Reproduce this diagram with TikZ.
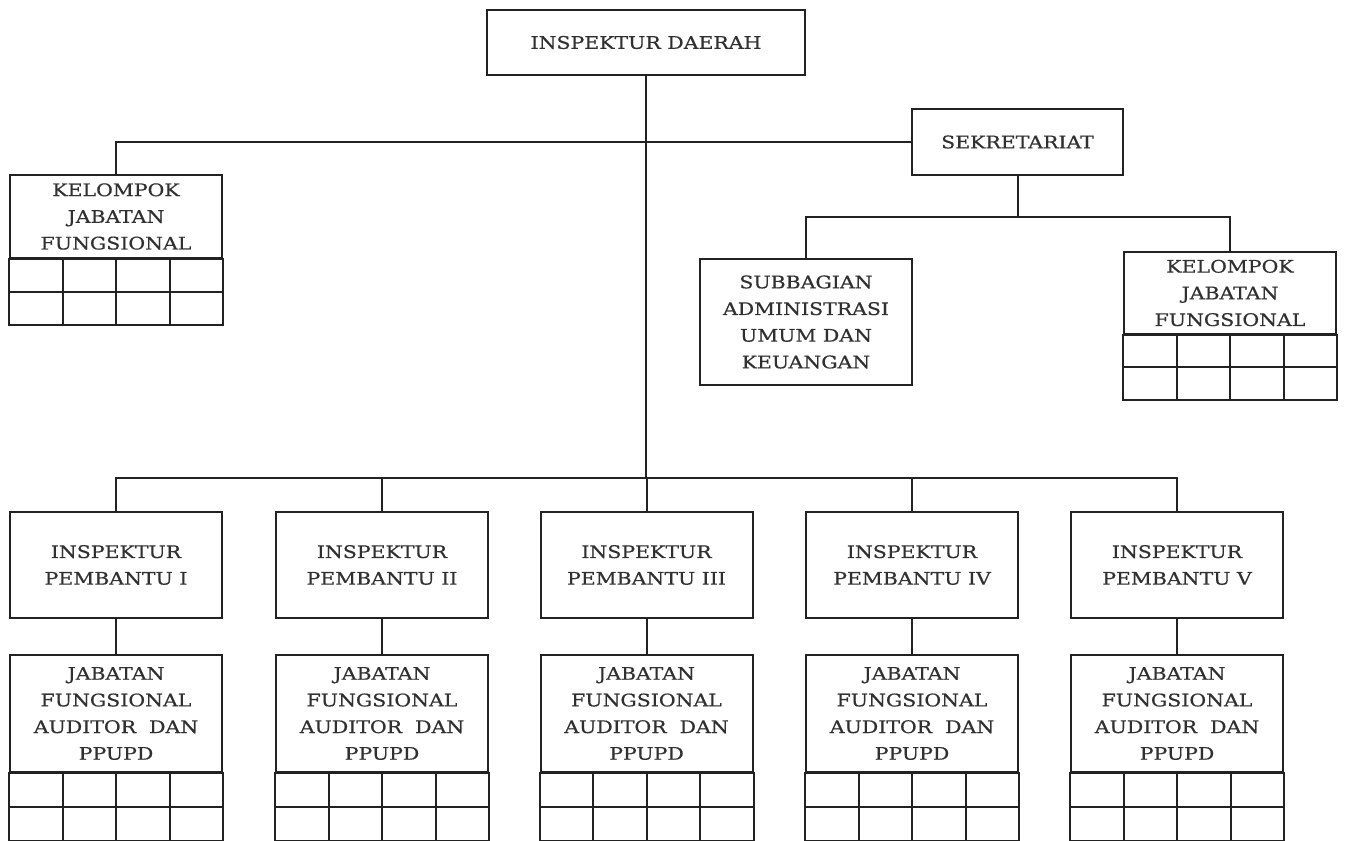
\documentclass[tikz,border=0pt]{standalone}
\usepackage{fontspec}
\setmainfont{DejaVu Serif}[FakeStretch=1.18,FakeBold=0.6]
\usetikzlibrary{calc}
\definecolor{ink}{HTML}{222222}
\definecolor{txt}{HTML}{303030}
\tikzset{
  orgbox/.style={draw=ink, line width=1.5pt, fill=white, align=center, inner sep=0pt,
    text=txt, font=\fontsize{13}{20}\selectfont},
  unitbox/.style={orgbox, minimum width=159pt},
  conn/.style={draw=ink, line width=1.5pt},
  gridline/.style={draw=ink, line width=1.5pt},
}
\newcommand{\cellgrid}[2]{%
  \draw[gridline] (#1.south west) rectangle ($(#1.south east)+(0,2*#2)$);
  \draw[gridline] ($(#1.south west)+(0,#2)$) -- ($(#1.south east)+(0,#2)$);
  \foreach \f in {0.25,0.5,0.75}
    \draw[gridline] ($(#1.south west)!\f!(#1.south east)$) -- ++(0,2*#2);
}
\begin{document}
\begin{tikzpicture}[x=0.75pt,y=-0.75pt]
\useasboundingbox (0,0) rectangle (1345,841);

% nodes
\node[orgbox, minimum width=238.5pt, minimum height=48.75pt] (daerah) at (646,42.5) {INSPEKTUR DAERAH};
\node[orgbox, minimum width=158.25pt, minimum height=49.5pt] (sek) at (1017.5,142) {SEKRETARIAT};
\node[unitbox, minimum height=62.25pt] (kjfL) at (116,216.5) {KELOMPOK\\JABATAN\\FUNGSIONAL};
\node[unitbox, minimum height=94.5pt] (sub) at (806,322) {SUBBAGIAN\\ADMINISTRASI\\UMUM DAN\\KEUANGAN};
\node[unitbox, minimum height=61.5pt] (kjfR) at (1230,293) {KELOMPOK\\JABATAN\\FUNGSIONAL};

\node[unitbox, minimum height=79.5pt] (ip1) at (116,565) {INSPEKTUR\\PEMBANTU I};
\node[unitbox, minimum height=79.5pt] (ip2) at (382,565) {INSPEKTUR\\PEMBANTU II};
\node[unitbox, minimum height=79.5pt] (ip3) at (646.5,565) {INSPEKTUR\\PEMBANTU III};
\node[unitbox, minimum height=79.5pt] (ip4) at (912,565) {INSPEKTUR\\PEMBANTU IV};
\node[unitbox, minimum height=79.5pt] (ip5) at (1177,565) {INSPEKTUR\\PEMBANTU V};

\foreach \i/\x in {1/116,2/382,3/646.5,4/912,5/1177}
  \node[unitbox, minimum height=87.75pt] (jab\i) at (\x,713.5) {JABATAN\\FUNGSIONAL\\AUDITOR~~DAN\\PPUPD};

% grids
\cellgrid{kjfL}{33}
\cellgrid{kjfR}{32.5}
\foreach \i in {1,...,5} { \cellgrid{jab\i}{34} }

% connectors
\coordinate (bus) at (646,478);
\coordinate (sbus) at (1017.5,217);
\draw[conn] (daerah.south) -- (daerah.south |- bus);
\draw[conn] (kjfL.north) -- (kjfL.north |- sek.west) -- (sek.west);
\draw[conn] (sek.south) -- (sbus);
\draw[conn] (sub.north) -- (sub.north |- sbus) -- (kjfR.north |- sbus) -- (kjfR.north);
\draw[conn] (ip1.north) -- (ip1.north |- bus) -- (ip5.north |- bus) -- (ip5.north);
\foreach \i in {2,3,4}
  \draw[conn] (ip\i.north) -- (ip\i.north |- bus);
\foreach \i in {1,...,5}
  \draw[conn] (ip\i.south) -- (jab\i.north);
\end{tikzpicture}
\end{document}
